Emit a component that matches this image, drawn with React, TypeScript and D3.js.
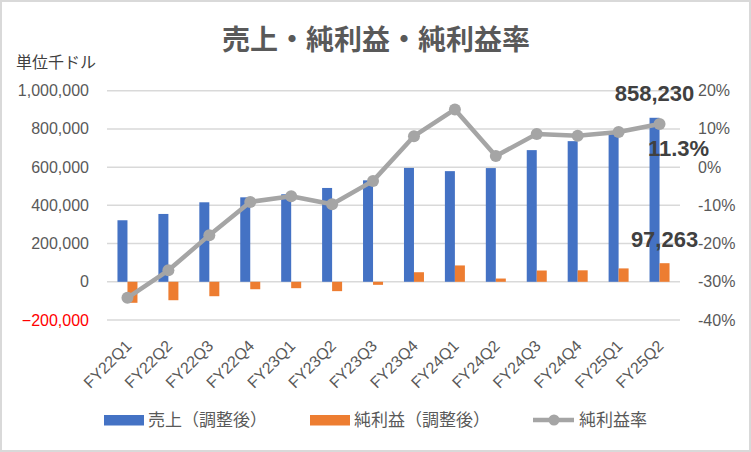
import { useEffect, useRef } from 'react';
import * as d3 from 'd3';

// Quarter labels
const quarters = [
  'FY22Q1', 'FY22Q2', 'FY22Q3', 'FY22Q4',
  'FY23Q1', 'FY23Q2', 'FY23Q3', 'FY23Q4',
  'FY24Q1', 'FY24Q2', 'FY24Q3', 'FY24Q4',
  'FY25Q1', 'FY25Q2',
];

// 売上（調整後）, 千ドル
const sales = [
  322000, 355000, 416000, 442000,
  458000, 491000, 531000, 596000,
  579000, 595000, 689000, 736000,
  780000, 858230,
];

// 純利益（調整後）, 千ドル
const netIncome = [
  -110000, -96500, -75500, -39000,
  -33500, -49000, -16000, 50000,
  85500, 17000, 59000, 60000,
  70000, 97263,
];

// 純利益率, %
const margin = [
  -34.2, -27.0, -17.8, -9.1,
  -7.6, -9.7, -3.6, 8.1,
  15.1, 2.9, 8.7, 8.2,
  9.2, 11.3,
];

const leftTicks = [-200000, 0, 200000, 400000, 600000, 800000, 1000000];
const rightTicks = [-40, -30, -20, -10, 0, 10, 20];

const legendItems = [
  { key: 'sales', label: '売上（調整後）' },
  { key: 'net', label: '純利益（調整後）' },
  { key: 'margin', label: '純利益率' },
];

const BLUE = '#4472c4';
const ORANGE = '#ed7d31';
const GRAY = '#a5a5a5';
const TEXT = '#595959';
const FONT = '"Liberation Sans", "Noto Sans CJK JP", sans-serif';

const App = () => {
  const svgRef = useRef<SVGSVGElement>(null);
  const width = 751;
  const height = 452;

  useEffect(() => {
    if (!svgRef.current) return;
    const svg = d3.select(svgRef.current);
    svg.selectAll('*').remove();

    const plot = { left: 107, right: 680, top: 90.7, bottom: 320 };

    const x = d3.scaleBand<string>()
      .domain(quarters)
      .range([plot.left, plot.right])
      .padding(0);

    const yLeft = d3.scaleLinear()
      .domain([-200000, 1000000])
      .range([plot.bottom, plot.top]);

    const yRight = d3.scaleLinear()
      .domain([-40, 20])
      .range([plot.bottom, plot.top]);

    const cx = (q: string) => (x(q) ?? 0) + x.bandwidth() / 2;
    const barW = 10;

    // chart border
    svg.append('rect')
      .attr('x', 1)
      .attr('y', 1)
      .attr('width', width - 2)
      .attr('height', height - 2)
      .attr('fill', '#ffffff')
      .attr('stroke', '#d9d9d9')
      .attr('stroke-width', 2);

    // title
    svg.append('text')
      .attr('x', 376)
      .attr('y', 40)
      .attr('text-anchor', 'middle')
      .attr('dominant-baseline', 'central')
      .style('font-family', FONT)
      .style('font-size', '28px')
      .style('font-weight', 'bold')
      .style('fill', TEXT)
      .text('売上・純利益・純利益率');

    // unit label
    svg.append('text')
      .attr('x', 16)
      .attr('y', 62)
      .attr('dominant-baseline', 'central')
      .style('font-family', FONT)
      .style('font-size', '16px')
      .style('fill', '#404040')
      .text('単位千ドル');

    // gridlines
    svg.append('g')
      .selectAll('line')
      .data(leftTicks)
      .enter()
      .append('line')
      .attr('x1', plot.left)
      .attr('x2', plot.right)
      .attr('y1', d => yLeft(d))
      .attr('y2', d => yLeft(d))
      .attr('stroke', '#d9d9d9')
      .attr('stroke-width', 1.5);

    // left axis labels
    svg.append('g')
      .selectAll('text')
      .data(leftTicks)
      .enter()
      .append('text')
      .attr('x', 89)
      .attr('y', d => yLeft(d))
      .attr('text-anchor', 'end')
      .attr('dominant-baseline', 'central')
      .style('font-family', FONT)
      .style('font-size', '16px')
      .style('fill', d => (d < 0 ? '#ff0000' : TEXT))
      .text(d => d3.format(',')(d));

    // right axis labels
    svg.append('g')
      .selectAll('text')
      .data(rightTicks)
      .enter()
      .append('text')
      .attr('x', 698)
      .attr('y', d => yRight(d))
      .attr('dominant-baseline', 'central')
      .style('font-family', FONT)
      .style('font-size', '16px')
      .style('fill', TEXT)
      .text(d => `${d}%`);

    // x axis labels
    svg.append('g')
      .selectAll('text')
      .data(quarters)
      .enter()
      .append('text')
      .attr('transform', d => `translate(${cx(d) + 5},${347}) rotate(-45)`)
      .attr('text-anchor', 'end')
      .style('font-family', FONT)
      .style('font-size', '16px')
      .style('fill', TEXT)
      .text(d => d);

    // sales bars
    svg.append('g')
      .selectAll('rect')
      .data(sales)
      .enter()
      .append('rect')
      .attr('x', (d, i) => cx(quarters[i]) - barW)
      .attr('y', d => yLeft(Math.max(0, d)))
      .attr('width', barW)
      .attr('height', d => Math.abs(yLeft(d) - yLeft(0)))
      .attr('fill', BLUE);

    // net income bars
    svg.append('g')
      .selectAll('rect')
      .data(netIncome)
      .enter()
      .append('rect')
      .attr('x', (d, i) => cx(quarters[i]))
      .attr('y', d => yLeft(Math.max(0, d)))
      .attr('width', barW)
      .attr('height', d => Math.abs(yLeft(d) - yLeft(0)))
      .attr('fill', ORANGE);

    // margin line
    const line = d3.line<number>()
      .x((d, i) => cx(quarters[i]))
      .y(d => yRight(d));

    svg.append('path')
      .datum(margin)
      .attr('d', line)
      .attr('fill', 'none')
      .attr('stroke', GRAY)
      .attr('stroke-width', 4.5)
      .attr('stroke-linejoin', 'round');

    svg.append('g')
      .selectAll('circle')
      .data(margin)
      .enter()
      .append('circle')
      .attr('cx', (d, i) => cx(quarters[i]))
      .attr('cy', d => yRight(d))
      .attr('r', 6)
      .attr('fill', GRAY);

    // data labels on the last quarter
    const last = quarters.length - 1;
    const lastQ = quarters[last];
    const labelStyle = (sel: d3.Selection<SVGTextElement, unknown, null, undefined>) =>
      sel
        .attr('text-anchor', 'middle')
        .style('font-family', FONT)
        .style('font-size', '22px')
        .style('font-weight', 'bold')
        .style('fill', '#404040');

    svg.append('text')
      .attr('x', cx(lastQ) - barW / 2)
      .attr('y', yLeft(sales[last]) - 17)
      .call(labelStyle)
      .text(d3.format(',')(sales[last]));

    svg.append('text')
      .attr('x', cx(lastQ) + barW / 2)
      .attr('y', yLeft(netIncome[last]) - 16)
      .call(labelStyle)
      .text(d3.format(',')(netIncome[last]));

    svg.append('text')
      .attr('x', cx(lastQ) + 19)
      .attr('y', yRight(margin[last]) + 32)
      .call(labelStyle)
      .text(`${margin[last]}%`);

    // legend
    const legend = svg.append('g').attr('transform', 'translate(0, 420)');
    const legendX = [104, 310, 533];
    const legendG = legend.selectAll('g')
      .data(legendItems)
      .enter()
      .append('g')
      .attr('transform', (d, i) => `translate(${legendX[i]}, 0)`);

    legendG.each(function (d) {
      const g = d3.select(this);
      if (d.key === 'margin') {
        g.append('line')
          .attr('x1', 0)
          .attr('x2', 41)
          .attr('y1', 0)
          .attr('y2', 0)
          .attr('stroke', GRAY)
          .attr('stroke-width', 4.5);
        g.append('circle')
          .attr('cx', 21)
          .attr('cy', 0)
          .attr('r', 5.5)
          .attr('fill', GRAY);
      } else {
        g.append('rect')
          .attr('x', 0)
          .attr('y', -5)
          .attr('width', 40)
          .attr('height', 10.5)
          .attr('fill', d.key === 'sales' ? BLUE : ORANGE);
      }
    });

    legendG.append('text')
      .attr('x', d => (d.key === 'margin' ? 46 : 44))
      .attr('y', 0)
      .attr('dominant-baseline', 'central')
      .style('font-family', FONT)
      .style('font-size', '17px')
      .style('fill', TEXT)
      .text(d => d.label);
  }, []);

  return (
    <svg
      ref={svgRef}
      width={width}
      height={height}
      style={{ position: 'absolute', left: 0, top: 0, background: '#ffffff' }}
    />
  );
};

export default App;
